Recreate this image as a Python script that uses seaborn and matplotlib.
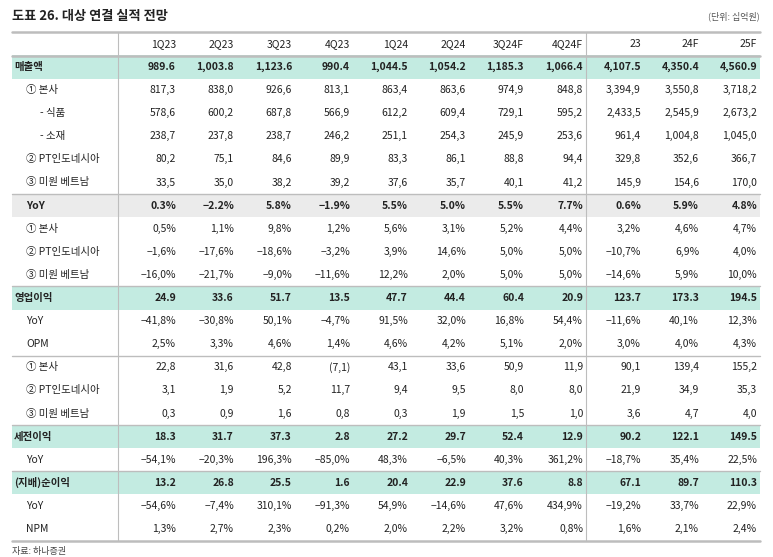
import matplotlib
matplotlib.use("Agg")
import matplotlib.pyplot as plt
import seaborn as sns

sns.set_theme(style="white")
plt.rcParams["font.family"] = ["Noto Sans CJK KR", "Noto Sans CJK JP", "Noto Sans CJK SC", "DejaVu Sans"]
plt.rcParams["axes.unicode_minus"] = False

# ============================================================
# Data
# ============================================================
columns = ["1Q23", "2Q23", "3Q23", "4Q23", "1Q24", "2Q24", "3Q24F", "4Q24F", "23", "24F", "25F"]

row_labels = ["매출액", "① 본사", "  - 식품", "  - 소재", "② PT인도네시아", "③ 미원 베트남",
              "YoY", "① 본사", "② PT인도네시아", "③ 미원 베트남",
              "영업이익", "YoY", "OPM", "① 본사", "② PT인도네시아", "③ 미원 베트남",
              "세전이익", "YoY", "(지배)순이익", "YoY", "NPM"]

sales = ["989.6", "1,003.8", "1,123.6", "990.4", "1,044.5", "1,054.2", "1,185.3", "1,066.4", "4,107.5", "4,350.4", "4,560.9"]
sales_hq = ["817,3", "838,0", "926,6", "813,1", "863,4", "863,6", "974,9", "848,8", "3,394,9", "3,550,8", "3,718,2"]
sales_food = ["578,6", "600,2", "687,8", "566,9", "612,2", "609,4", "729,1", "595,2", "2,433,5", "2,545,9", "2,673,2"]
sales_mat = ["238,7", "237,8", "238,7", "246,2", "251,1", "254,3", "245,9", "253,6", "961,4", "1,004,8", "1,045,0"]
sales_pt = ["80,2", "75,1", "84,6", "89,9", "83,3", "86,1", "88,8", "94,4", "329,8", "352,6", "366,7"]
sales_vn = ["33,5", "35,0", "38,2", "39,2", "37,6", "35,7", "40,1", "41,2", "145,9", "154,6", "170,0"]
yoy = ["0.3%", "-2.2%", "5.8%", "-1.9%", "5.5%", "5.0%", "5.5%", "7.7%", "0.6%", "5.9%", "4.8%"]
yoy_hq = ["0,5%", "1,1%", "9,8%", "1,2%", "5,6%", "3,1%", "5,2%", "4,4%", "3,2%", "4,6%", "4,7%"]
yoy_pt = ["-1,6%", "-17,6%", "-18,6%", "-3,2%", "3,9%", "14,6%", "5,0%", "5,0%", "-10,7%", "6,9%", "4,0%"]
yoy_vn = ["-16,0%", "-21,7%", "-9,0%", "-11,6%", "12,2%", "2,0%", "5,0%", "5,0%", "-14,6%", "5,9%", "10,0%"]
op = ["24.9", "33.6", "51.7", "13.5", "47.7", "44.4", "60.4", "20.9", "123.7", "173.3", "194.5"]
op_yoy = ["-41,8%", "-30,8%", "50,1%", "-4,7%", "91,5%", "32,0%", "16,8%", "54,4%", "-11,6%", "40,1%", "12,3%"]
opm = ["2,5%", "3,3%", "4,6%", "1,4%", "4,6%", "4,2%", "5,1%", "2,0%", "3,0%", "4,0%", "4,3%"]
op_hq = ["22,8", "31,6", "42,8", "(7,1)", "43,1", "33,6", "50,9", "11,9", "90,1", "139,4", "155,2"]
op_pt = ["3,1", "1,9", "5,2", "11,7", "9,4", "9,5", "8,0", "8,0", "21,9", "34,9", "35,3"]
op_vn = ["0,3", "0,9", "1,6", "0,8", "0,3", "1,9", "1,5", "1,0", "3,6", "4,7", "4,0"]
pretax = ["18.3", "31.7", "37.3", "2.8", "27.2", "29.7", "52.4", "12.9", "90.2", "122.1", "149.5"]
pretax_yoy = ["-54,1%", "-20,3%", "196,3%", "-85,0%", "48,3%", "-6,5%", "40,3%", "361,2%", "-18,7%", "35,4%", "22,5%"]
ni = ["13.2", "26.8", "25.5", "1.6", "20.4", "22.9", "37.6", "8.8", "67.1", "89.7", "110.3"]
ni_yoy = ["-54,6%", "-7,4%", "310,1%", "-91,3%", "54,9%", "-14,6%", "47,6%", "434,9%", "-19,2%", "33,7%", "22,9%"]
npm = ["1,3%", "2,7%", "2,3%", "0,2%", "2,0%", "2,2%", "3,2%", "0,8%", "1,6%", "2,1%", "2,4%"]

rows = [sales, sales_hq, sales_food, sales_mat, sales_pt, sales_vn,
        yoy, yoy_hq, yoy_pt, yoy_vn,
        op, op_yoy, opm, op_hq, op_pt, op_vn,
        pretax, pretax_yoy, ni, ni_yoy, npm]

green_rows = [0, 10, 16, 18]
gray_rows = [6]
bold_rows = [0, 6, 10, 16, 18]
line_after = [5, 9, 12, 15, 17]   # thin gray separators below these rows

# ============================================================
# Layout (pixel coordinates)
# ============================================================
fig = plt.figure(figsize=(7.73, 5.57), dpi=100)
ax = fig.add_axes([0, 0, 1, 1])
ax.set_xlim(0, 773)
ax.set_ylim(557, 0)
ax.axis("off")

x0, x1 = 12, 760
col_right = [176, 234, 292, 350, 408, 466, 524, 583, 641, 699, 757]
header_y = 44
row_h = 23.1
first_y = 67
green = "#c3ebe1"
gray = "#ebebeb"
txt = "#222222"
lc = "#bdbdbd"

ax.text(12, 16, "도표 26. 대상 연결 실적 전망", fontsize=9.5, fontweight="bold", va="center", color=txt)
ax.text(760, 16, "(단위: 십억원)", fontsize=6.5, ha="right", va="center", color="#555555")

ax.plot([x0, x1], [32, 32], color=lc, lw=1.8)
ax.plot([x0, x1], [55.5, 55.5], color=lc, lw=1.8)
for c, x in zip(columns, col_right):
    ax.text(x, header_y, c, fontsize=7.5, ha="right", va="center", color=txt)

for i, (lab, vals) in enumerate(zip(row_labels, rows)):
    y = first_y + i * row_h
    if i in green_rows:
        ax.fill_between([x0, x1], y - row_h / 2, y + row_h / 2, color=green, lw=0)
    if i in gray_rows:
        ax.fill_between([x0, x1], y - row_h / 2, y + row_h / 2, color=gray, lw=0)
    fw = "bold" if i in bold_rows else "normal"
    if lab.startswith("  -"):
        lx = x0 + 28
        lab = lab.strip()
    elif i in bold_rows and lab != "YoY":
        lx = x0 + 2
    else:
        lx = x0 + 14
    ax.text(lx, y, lab, fontsize=7.5, fontweight=fw, va="center", color=txt)
    for v, x in zip(vals, col_right):
        ax.text(x, y, v.replace("-", "\u2212"), fontsize=7.5, fontweight=fw, ha="right", va="center", color=txt)
    if i in line_after:
        ax.plot([x0, x1], [y + row_h / 2, y + row_h / 2], color=lc, lw=1.0)

bottom = first_y + (len(rows) - 0.5) * row_h
ax.plot([x0, x1], [bottom, bottom], color=lc, lw=1.8)
for x in (118, 585.5):
    ax.plot([x, x], [32, bottom], color=lc, lw=0.8)

ax.text(12, bottom + 11, "자료: 하나증권", fontsize=6.5, va="center", color="#444444")

fig.savefig("out.png", dpi=100)
